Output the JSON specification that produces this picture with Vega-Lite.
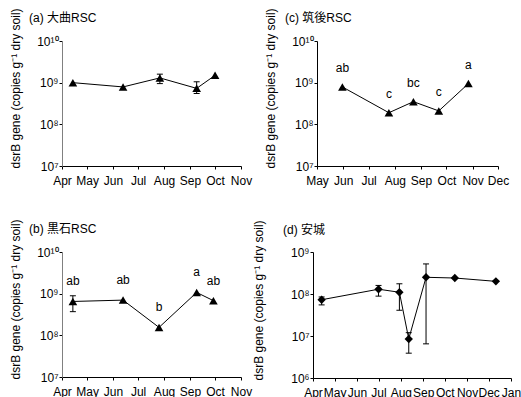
{
  "$schema": "https://vega.github.io/schema/vega-lite/v6.json",
  "padding": {"left": 9, "top": 7, "right": 0, "bottom": 0},
  "datasets": {
    "a": [
      {"date": "2010/04/14", "value": 1.0e9, "lo": null, "hi": null, "label": ""},
      {"date": "2010/06/13", "value": 7.9e8, "lo": null, "hi": null, "label": ""},
      {"date": "2010/07/27", "value": 1.3e9, "lo": 9.5e8, "hi": 1.6e9, "label": ""},
      {"date": "2010/09/09", "value": 7.3e8, "lo": 5.5e8, "hi": 1.05e9, "label": ""},
      {"date": "2010/10/01", "value": 1.5e9, "lo": null, "hi": null, "label": ""}
    ],
    "b": [
      {"date": "2010/04/14", "value": 6.5e8, "lo": 3.7e8, "hi": 8.9e8, "label": "ab"},
      {"date": "2010/06/13", "value": 7.0e8, "lo": null, "hi": null, "label": "ab"},
      {"date": "2010/07/26", "value": 1.55e8, "lo": null, "hi": null, "label": "b"},
      {"date": "2010/09/09", "value": 1.07e9, "lo": null, "hi": null, "label": "a"},
      {"date": "2010/09/29", "value": 6.8e8, "lo": null, "hi": null, "label": "ab"}
    ],
    "c": [
      {"date": "2010/05/31", "value": 7.9e8, "lo": null, "hi": null, "label": "ab"},
      {"date": "2010/07/25", "value": 1.9e8, "lo": null, "hi": null, "label": "c"},
      {"date": "2010/08/23", "value": 3.5e8, "lo": null, "hi": null, "label": "bc"},
      {"date": "2010/09/22", "value": 2.1e8, "lo": null, "hi": null, "label": "c"},
      {"date": "2010/10/27", "value": 9.5e8, "lo": null, "hi": null, "label": "a"}
    ],
    "d": [
      {"date": "2010/04/13", "value": 7.3e7, "lo": 5.5e7, "hi": 8.5e7, "label": ""},
      {"date": "2010/07/01", "value": 1.3e8, "lo": 8.9e7, "hi": 1.6e8, "label": ""},
      {"date": "2010/07/30", "value": 1.1e8, "lo": 4.1e7, "hi": 1.75e8, "label": ""},
      {"date": "2010/08/12", "value": 8.5e6, "lo": 3.9e6, "hi": 1.2e7, "label": ""},
      {"date": "2010/09/05", "value": 2.5e8, "lo": 6.5e6, "hi": 5.2e8, "label": ""},
      {"date": "2010/10/15", "value": 2.4e8, "lo": null, "hi": null, "label": ""},
      {"date": "2010/12/11", "value": 2.0e8, "lo": null, "hi": null, "label": ""}
    ]
  },
  "vconcat": [
    {
      "hconcat": [
        {
          "width": 179, "height": 125,
          "title": {"text": "(a) 大曲RSC", "anchor": "start", "frame": "group", "dx": -33, "offset": -17},
          "data": {"name": "a"},
          "encoding": {
            "x": {"field": "date", "type": "temporal",
                  "scale": {"domain": [{"year": 2010, "month": 4, "date": 1}, {"year": 2010, "month": 11, "date": 1}]},
                  "axis": {"title": null, "format": "%b", "tickCount": {"interval": "month", "step": 1}, "labelAlign": "center", "labelFlush": false, "labelOverlap": false, "grid": false}}
          },
          "layer": [
            {"mark": {"type": "line", "color": "black", "strokeWidth": 1},
             "encoding": {"y": {"field": "value", "type": "quantitative",
               "scale": {"type": "log", "domain": [1e7, 1e10], "nice": false},
               "axis": {"title": "dsrB gene (copies g⁻¹ dry soil)", "values": [1e7, 1e8, 1e9, 1e10], "domainColor": "#808080", "titleY": 127,
                 "labelExpr": "datum.value >= 1e10 ? '10¹⁰' : datum.value >= 1e9 ? '10⁹' : datum.value >= 1e8 ? '10⁸' : datum.value >= 1e7 ? '10⁷' : '10⁶'"}}}},
            {"mark": {"type": "rule", "color": "black", "strokeWidth": 1},
             "encoding": {"y": {"field": "lo", "type": "quantitative"}, "y2": {"field": "hi"}}},
            {"mark": {"type": "point", "shape": "stroke", "size": 36, "color": "black", "strokeWidth": 1, "opacity": 1},
             "encoding": {"y": {"field": "lo", "type": "quantitative"}}},
            {"mark": {"type": "point", "shape": "stroke", "size": 36, "color": "black", "strokeWidth": 1, "opacity": 1},
             "encoding": {"y": {"field": "hi", "type": "quantitative"}}},
            {"mark": {"type": "point", "shape": "triangle-up", "filled": true, "size": 75, "color": "black", "opacity": 1},
             "encoding": {"y": {"field": "value", "type": "quantitative"}}}
          ]
        },
        {
          "width": 181, "height": 125,
          "title": {"text": "(c) 筑後RSC", "anchor": "start", "frame": "group", "dx": -32, "offset": -17},
          "data": {"name": "c"},
          "encoding": {
            "x": {"field": "date", "type": "temporal",
                  "scale": {"domain": [{"year": 2010, "month": 5, "date": 1}, {"year": 2010, "month": 12, "date": 1}]},
                  "axis": {"title": null, "format": "%b", "tickCount": {"interval": "month", "step": 1}, "labelAlign": "center", "labelFlush": false, "labelOverlap": false, "grid": false}}
          },
          "layer": [
            {"mark": {"type": "line", "color": "black", "strokeWidth": 1},
             "encoding": {"y": {"field": "value", "type": "quantitative",
               "scale": {"type": "log", "domain": [1e7, 1e10], "nice": false},
               "axis": {"title": "dsrB gene (copies g⁻¹ dry soil)", "values": [1e7, 1e8, 1e9, 1e10], "titleY": 127,
                 "labelExpr": "datum.value >= 1e10 ? '10¹⁰' : datum.value >= 1e9 ? '10⁹' : datum.value >= 1e8 ? '10⁸' : datum.value >= 1e7 ? '10⁷' : '10⁶'"}}}},
            {"mark": {"type": "point", "shape": "triangle-up", "filled": true, "size": 75, "color": "black", "opacity": 1},
             "encoding": {"y": {"field": "value", "type": "quantitative"}}},
            {"mark": {"type": "text", "dy": -19, "fontSize": 12, "color": "black"},
             "encoding": {"y": {"field": "value", "type": "quantitative"}, "text": {"field": "label"}}}
          ]
        }
      ],
      "spacing": 12
    },
    {
      "hconcat": [
        {
          "width": 179, "height": 125,
          "title": {"text": "(b) 黒石RSC", "anchor": "start", "frame": "group", "dx": -33, "offset": -17},
          "data": {"name": "b"},
          "encoding": {
            "x": {"field": "date", "type": "temporal",
                  "scale": {"domain": [{"year": 2010, "month": 4, "date": 1}, {"year": 2010, "month": 11, "date": 1}]},
                  "axis": {"title": null, "format": "%b", "tickCount": {"interval": "month", "step": 1}, "labelAlign": "center", "labelFlush": false, "labelOverlap": false, "grid": false}}
          },
          "layer": [
            {"mark": {"type": "line", "color": "black", "strokeWidth": 1},
             "encoding": {"y": {"field": "value", "type": "quantitative",
               "scale": {"type": "log", "domain": [1e7, 1e10], "nice": false},
               "axis": {"title": "dsrB gene (copies g⁻¹ dry soil)", "values": [1e7, 1e8, 1e9, 1e10], "domainColor": "#808080", "titleY": 127,
                 "labelExpr": "datum.value >= 1e10 ? '10¹⁰' : datum.value >= 1e9 ? '10⁹' : datum.value >= 1e8 ? '10⁸' : datum.value >= 1e7 ? '10⁷' : '10⁶'"}}}},
            {"mark": {"type": "rule", "color": "black", "strokeWidth": 1},
             "encoding": {"y": {"field": "lo", "type": "quantitative"}, "y2": {"field": "hi"}}},
            {"mark": {"type": "point", "shape": "stroke", "size": 36, "color": "black", "strokeWidth": 1, "opacity": 1},
             "encoding": {"y": {"field": "lo", "type": "quantitative"}}},
            {"mark": {"type": "point", "shape": "stroke", "size": 36, "color": "black", "strokeWidth": 1, "opacity": 1},
             "encoding": {"y": {"field": "hi", "type": "quantitative"}}},
            {"mark": {"type": "point", "shape": "triangle-up", "filled": true, "size": 75, "color": "black", "opacity": 1},
             "encoding": {"y": {"field": "value", "type": "quantitative"}}},
            {"mark": {"type": "text", "dy": -20, "fontSize": 12, "color": "black"},
             "encoding": {"y": {"field": "value", "type": "quantitative"}, "text": {"field": "label"}}}
          ]
        },
        {
          "width": 198, "height": 126,
          "title": {"text": "(d) 安城", "anchor": "start", "frame": "group", "dx": -30, "offset": -17},
          "data": {"name": "d"},
          "encoding": {
            "x": {"field": "date", "type": "temporal",
                  "scale": {"domain": [{"year": 2010, "month": 4, "date": 1}, {"year": 2011, "month": 1, "date": 1}]},
                  "axis": {"title": null, "format": "%b", "tickCount": {"interval": "month", "step": 1}, "labelAlign": "center", "labelFlush": false, "labelOverlap": false, "grid": false}}
          },
          "layer": [
            {"mark": {"type": "line", "color": "black", "strokeWidth": 1},
             "encoding": {"y": {"field": "value", "type": "quantitative",
               "scale": {"type": "log", "domain": [1e6, 1e9], "nice": false},
               "axis": {"title": "dsrB gene (copies g⁻¹ dry soil)", "values": [1e6, 1e7, 1e8, 1e9], "titleY": 128, "titlePadding": 25,
                 "labelExpr": "datum.value >= 1e10 ? '10¹⁰' : datum.value >= 1e9 ? '10⁹' : datum.value >= 1e8 ? '10⁸' : datum.value >= 1e7 ? '10⁷' : '10⁶'"}}}},
            {"mark": {"type": "rule", "color": "black", "strokeWidth": 1},
             "encoding": {"y": {"field": "lo", "type": "quantitative"}, "y2": {"field": "hi"}}},
            {"mark": {"type": "point", "shape": "stroke", "size": 36, "color": "black", "strokeWidth": 1, "opacity": 1},
             "encoding": {"y": {"field": "lo", "type": "quantitative"}}},
            {"mark": {"type": "point", "shape": "stroke", "size": 36, "color": "black", "strokeWidth": 1, "opacity": 1},
             "encoding": {"y": {"field": "hi", "type": "quantitative"}}},
            {"mark": {"type": "point", "shape": "diamond", "filled": true, "size": 70, "color": "black", "opacity": 1},
             "encoding": {"y": {"field": "value", "type": "quantitative"}}}
          ]
        }
      ],
      "spacing": 0
    }
  ],
  "spacing": 32,
  "config": {
    "font": "Liberation Sans, Noto Sans CJK JP",
    "view": {"stroke": null},
    "title": {"fontSize": 12, "fontWeight": "normal", "color": "black"},
    "axis": {
      "labelFontSize": 12, "labelColor": "black", "titleFontSize": 12, "titleFontWeight": "normal", "titleColor": "black",
      "domainColor": "black", "tickColor": "black", "tickSize": 3, "labelPadding": 1, "titlePadding": 14, "grid": false,
      "titleAlign": "left"
    },
    "axisX": {"labelPadding": 6}
  }
}
